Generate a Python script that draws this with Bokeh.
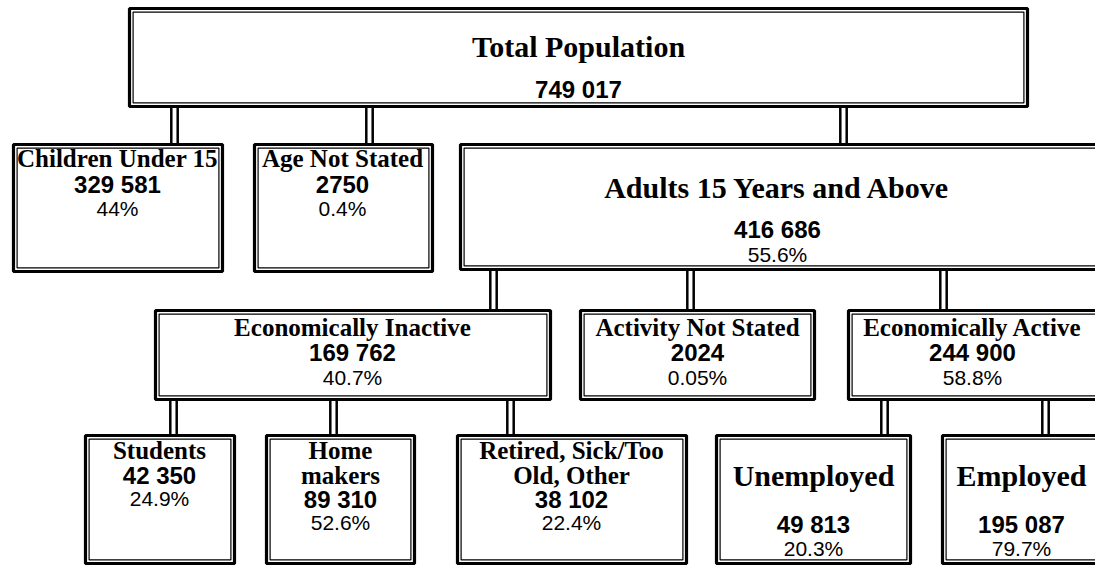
from bokeh.plotting import figure
from bokeh.models import Range1d, ColumnDataSource
from bokeh.core.properties import value
from bokeh.embed import file_html
from bokeh.resources import INLINE

# ---------------- data ----------------
names = ["Total Population", "Children Under 15", "Age Not Stated",
         "Adults 15 Years and Above", "Economically Inactive",
         "Activity Not Stated", "Economically Active", "Students",
         "Home\nmakers", "Retired, Sick/Too\nOld, Other", "Unemployed", "Employed"]
counts = [749017, 329581, 2750, 416686, 169762, 2024, 244900,
          42350, 89310, 38102, 49813, 195087]
percents = ["", "44%", "0.4%", "55.6%", "40.7%", "0.05%", "58.8%",
            "24.9%", "52.6%", "22.4%", "20.3%", "79.7%"]
parents = [None, 0, 0, 0, 3, 3, 3, 4, 4, 4, 6, 6]

# ---------------- layout (page pixels) ----------------
# box: left, top, right, bottom
boxes = [(129, 8, 1027, 106), (13, 144, 222, 271), (254, 144, 432, 271),
         (460, 144, 1100, 269), (155, 310, 550, 399), (580, 310, 814, 399),
         (848, 310, 1100, 399), (85, 435, 234, 563), (266, 435, 414, 563),
         (457, 435, 686, 563), (716, 435, 910, 563), (942, 435, 1100, 563)]
centers = [578, 117, 342, 777, 352, 697, 972, 159, 340, 571, 813, 1021]
title_y = [[46], [158], [158], [187], [327], [327], [327], [450],
           [450, 475], [450, 475], [475], [475]]
count_y = [89, 184, 184, 229, 352, 352, 352, 475, 499, 499, 524, 524]
pct_y = [None, 208, 208, 254, 377, 377, 377, 498, 522, 522, 548, 548]
title_size = ["30px", "25px", "25px", "30px", "25px", "25px", "25px",
              "25px", "25px", "25px", "30px", "30px"]
conn_x = [None, 174, 369, 843, 493, 690, 943, 173, 333, 510, 884, 1045]

def fmt(n):
    if n >= 10000:
        return f"{n:,}".replace(",", " ")
    return str(n)

W, H = 1095, 565
p = figure(width=W, height=H, output_backend="svg", toolbar_location=None,
           x_range=Range1d(0, W), y_range=Range1d(H, 0), min_border=0)
p.axis.visible = False
p.grid.visible = False
p.outline_line_color = None
p.background_fill_color = "white"
p.border_fill_color = "white"

# connectors (double vertical lines)
x0s, x1s, y0s, y1s = [], [], [], []
for i, par in enumerate(parents):
    if par is None:
        continue
    ytop = boxes[par][3]
    ybot = boxes[i][1]
    for dx in (-3.2, 3.2):
        x0s.append(conn_x[i] + dx); x1s.append(conn_x[i] + dx)
        y0s.append(ytop); y1s.append(ybot)
p.segment(x0=x0s, y0=y0s, x1=x1s, y1=y1s, line_color="black", line_width=2.5)

# boxes: thick outer + thin inner
L = [b[0] for b in boxes]; T = [b[1] for b in boxes]
R = [b[2] for b in boxes]; B = [b[3] for b in boxes]
p.quad(left=L, right=R, top=T, bottom=B, fill_color="white",
       line_color="black", line_width=3.2)
ins = 3.6
p.quad(left=[v + ins for v in L], right=[v - ins for v in R],
       top=[v + ins for v in T], bottom=[v - ins for v in B],
       fill_color=None, line_color="black", line_width=1.2)

# texts
tx, ty, tt, ts = [], [], [], []
for i, nm in enumerate(names):
    for line, yy in zip(nm.split("\n"), title_y[i]):
        tx.append(centers[i]); ty.append(yy); tt.append(line); ts.append(title_size[i])
p.text(x="x", y="y", text="t", text_font_size="s",
       source=ColumnDataSource(dict(x=tx, y=ty, t=tt, s=ts)),
       text_font=value("Liberation Serif"), text_font_style="bold",
       text_align="center", text_baseline="middle", text_color="black")

p.text(x=centers, y=count_y, text=[fmt(c) for c in counts],
       text_font=value("Liberation Sans"), text_font_style="bold",
       text_font_size="24px", text_align="center", text_baseline="middle",
       text_color="black")

px = [centers[i] for i in range(len(percents)) if pct_y[i] is not None]
py = [pct_y[i] for i in range(len(percents)) if pct_y[i] is not None]
pt = [percents[i] for i in range(len(percents)) if pct_y[i] is not None]
p.text(x=px, y=py, text=pt, text_font=value("Liberation Sans"),
       text_font_size="21px", text_align="center", text_baseline="middle",
       text_color="black")

open("out.html", "w").write(file_html(p, INLINE))
